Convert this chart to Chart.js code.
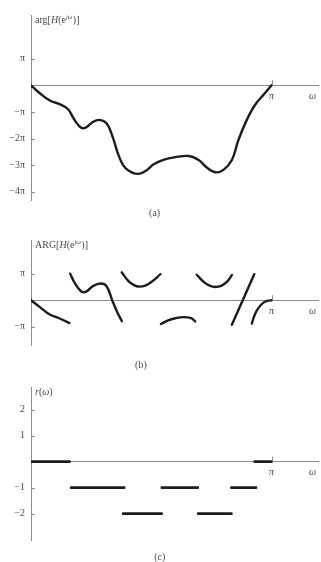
<!DOCTYPE html>
<html>
<head>
<meta charset="utf-8">
<script src="https://cdn.jsdelivr.net/npm/chart.js@4.4.1/dist/chart.umd.min.js"></script>
<style>
  html, body { margin: 0; padding: 0; background: #fff; }
  #page { position: relative; width: 321px; height: 562px; overflow: hidden; }
  .panel { position: absolute; left: 0; width: 321px; }
</style>
</head>
<body>
<div id="page">
  <div class="panel" style="top:0;height:225px"><canvas id="chartA"></canvas></div>
  <div class="panel" style="top:225px;height:150px"><canvas id="chartB"></canvas></div>
  <div class="panel" style="top:375px;height:187px"><canvas id="chartC"></canvas></div>
</div>
<script>
// frequency is in units of pi, phase in units of pi

// (a) continuous phase arg[H(e^jw)]
const omegaA = [0, 0.037, 0.078, 0.119, 0.154, 0.181, 0.209, 0.229, 0.257, 0.284, 0.314, 0.339,
  0.366, 0.394, 0.442, 0.476, 0.51, 0.55, 0.6, 0.656, 0.697, 0.732, 0.766, 0.8, 0.835, 0.862,
  0.897, 0.931, 0.972, 1.0];
const argA = [0, -0.3, -0.57, -0.71, -0.9, -1.3, -1.6, -1.58, -1.38, -1.3, -1.43, -1.93,
  -2.68, -3.12, -3.33, -3.22, -2.97, -2.8, -2.7, -2.66, -2.81, -3.1, -3.27, -3.18, -2.81, -2.06,
  -1.3, -0.74, -0.3, 0];

// (b) principal value ARG[H(e^jw)], one pair of arrays per branch
const omegaB = [
  [0, 0.037, 0.078, 0.119, 0.16],
  [0.163, 0.181, 0.209, 0.229, 0.257, 0.289, 0.314, 0.339, 0.36, 0.378],
  [0.377, 0.405, 0.43, 0.449, 0.475, 0.505, 0.538],
  [0.54, 0.57, 0.6, 0.635, 0.665, 0.683],
  [0.689, 0.72, 0.745, 0.765, 0.79, 0.815, 0.835],
  [0.835, 0.928],
  [0.918, 0.93, 0.945, 0.965, 0.985, 1.0]
];
const ARGb = [
  [0, -0.26, -0.54, -0.69, -0.86],
  [1.0, 0.66, 0.33, 0.32, 0.53, 0.63, 0.53, -0.04, -0.48, -0.79],
  [1.05, 0.72, 0.56, 0.51, 0.55, 0.72, 0.98],
  [-0.9, -0.76, -0.68, -0.64, -0.68, -0.8],
  [0.96, 0.67, 0.54, 0.5, 0.54, 0.7, 0.95],
  [-0.93, 0.98],
  [-0.88, -0.55, -0.3, -0.1, -0.02, 0]
];

// (c) integer r(w) on each interval
const rStart = [0, 0.167, 0.383, 0.544, 0.695, 0.833, 0.93];
const rEnd = [0.16, 0.387, 0.543, 0.693, 0.833, 0.935, 1.0];
const rLevel = [0, -1, -2, -1, -2, -1, 0];

// tick labels
const xTickValues = [1, 1.17];
const xTickLabels = ['π', 'ω'];
const yTicksA = [1, -1, -2, -3, -4];
const yLabelsA = ['π', '−π', '−2π', '−3π', '−4π'];
const yTicksB = [1, -1];
const yLabelsB = ['π', '−π'];
const yTicksC = [2, 1, -1, -2];
const yLabelsC = ['2', '1', '−1', '−2'];

const INK = '#1c1c1c';
const AXIS = '#8c8c8c';
const TEXT = '#4a4a4a';
const SERIF = '"Liberation Serif", "DejaVu Serif", serif';
const X_MAX = 1.193;

const panelMeta = {
  chartA: {
    label: [{ t: 'arg[' }, { t: 'H', it: true }, { t: '(e' }, { t: 'jω', it: true, sup: true }, { t: ')]' }],
    caption: '(a)', captionAt: 0.514, captionGap: 13
  },
  chartB: {
    label: [{ t: 'ARG[' }, { t: 'H', it: true }, { t: '(e' }, { t: 'jω', it: true, sup: true }, { t: ')]' }],
    caption: '(b)', captionAt: 0.457, captionGap: 20
  },
  chartC: {
    label: [{ t: 'r', it: true }, { t: '(' }, { t: 'ω', it: true }, { t: ')' }],
    caption: '(c)', captionAt: 0.535, captionGap: 17
  }
};

function toPoints(xs, ys) {
  return xs.map((x, i) => ({ x, y: ys[i] }));
}

function curve(points, width) {
  return {
    data: points,
    borderColor: INK,
    borderWidth: width,
    borderCapStyle: 'round',
    pointRadius: 0,
    fill: false,
    tension: 0.4
  };
}

// small inner tick marks, the axis label with its superscript and the caption
const axisDecor = {
  id: 'axisDecor',
  afterDraw(chart) {
    const meta = panelMeta[chart.canvas.id];
    const { ctx, chartArea } = chart;
    const x = chart.scales.x, y = chart.scales.y;
    ctx.save();
    ctx.strokeStyle = AXIS;
    ctx.lineWidth = 1;
    y.ticks.forEach(t => {
      const py = Math.round(y.getPixelForValue(t.value)) + 0.5;
      ctx.beginPath();
      ctx.moveTo(chartArea.left, py);
      ctx.lineTo(chartArea.left + 4, py);
      ctx.stroke();
    });
    const px = Math.round(x.getPixelForValue(x.ticks[0].value)) + 0.5;
    const y0 = y.getPixelForValue(0);
    ctx.beginPath();
    ctx.moveTo(px, y0);
    ctx.lineTo(px, y0 - 5);
    ctx.stroke();

    ctx.fillStyle = TEXT;
    ctx.textAlign = 'left';
    ctx.textBaseline = 'alphabetic';
    let lx = chartArea.left + 4;
    const by = chartArea.top + 8;
    meta.label.forEach(run => {
      ctx.font = (run.it ? 'italic ' : '') + (run.sup ? 6.5 : 10) + 'px ' + SERIF;
      ctx.fillText(run.t, lx, run.sup ? by - 4 : by);
      lx += ctx.measureText(run.t).width + (run.sup ? 0.5 : 0);
    });

    ctx.font = '10px ' + SERIF;
    ctx.textAlign = 'center';
    ctx.textBaseline = 'middle';
    ctx.fillText(meta.caption, x.getPixelForValue(meta.captionAt), chartArea.bottom + meta.captionGap);
    ctx.restore();
  }
};

function makePanel(id, datasets, yMin, yMax, yTicks, yLabels, padTop, padBottom) {
  return new Chart(document.getElementById(id), {
    type: 'line',
    data: { datasets },
    options: {
      responsive: true,
      maintainAspectRatio: false,
      animation: false,
      layout: { padding: { top: padTop, bottom: padBottom, left: 0, right: 0 } },
      plugins: { legend: { display: false }, tooltip: { enabled: false } },
      scales: {
        x: {
          type: 'linear',
          position: { y: 0 },
          min: 0,
          max: X_MAX,
          afterBuildTicks: s => { s.ticks = xTickValues.map(v => ({ value: v })); },
          ticks: {
            autoSkip: false, maxRotation: 0, padding: 5, color: TEXT,
            font: { family: SERIF, size: 10, style: 'italic' },
            callback: (v, i) => xTickLabels[i]
          },
          grid: { display: true, drawOnChartArea: false, drawTicks: false },
          border: { display: true, color: AXIS, width: 1 }
        },
        y: {
          type: 'linear',
          min: yMin,
          max: yMax,
          afterFit: s => { s.width = 31; },
          afterBuildTicks: s => { s.ticks = yTicks.map(v => ({ value: v })); },
          ticks: {
            autoSkip: false, padding: 6, color: TEXT,
            font: { family: SERIF, size: 10 },
            callback: (v, i) => yLabels[i]
          },
          grid: { display: true, drawOnChartArea: false, drawTicks: false },
          border: { display: true, color: AXIS, width: 1 }
        }
      }
    },
    plugins: [axisDecor]
  });
}

makePanel('chartA', [curve(toPoints(omegaA, argA), 2.4)],
  -4.312, 2.643, yTicksA, yLabelsA, 15, 25);

makePanel('chartB', omegaB.map((w, k) => curve(toPoints(w, ARGb[k]), 2.4)),
  -1.69, 2.27, yTicksB, yLabelsB, 15, 30);

makePanel('chartC', rLevel.map((r, k) => curve(toPoints([rStart[k], rEnd[k]], [r, r]), 2.8)),
  -3.01, 2.87, yTicksC, yLabelsC, 12, 22);
</script>
</body>
</html>
